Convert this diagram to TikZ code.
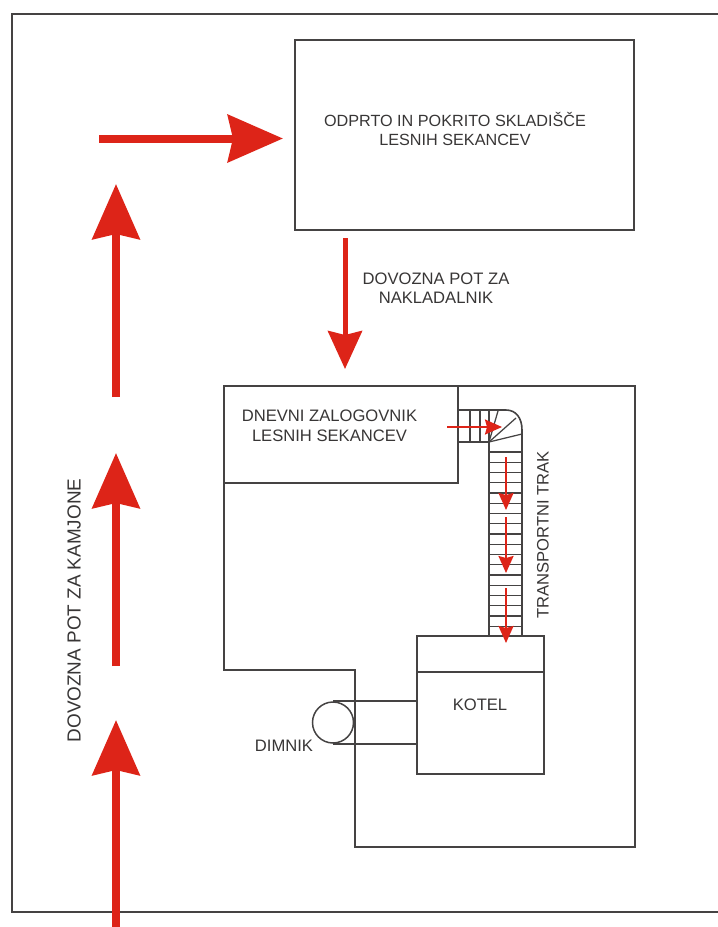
\documentclass[tikz,border=0pt]{standalone}
\usepackage{fontspec}
\setmainfont{Liberation Sans}
\usetikzlibrary{arrows.meta}
\definecolor{ln}{HTML}{454343}
\definecolor{rd}{HTML}{DD2418}
\definecolor{tx}{HTML}{383636}
\tikzset{
 wall/.style={draw=ln,line width=1.6bp},
 thin wall/.style={draw=ln,line width=1.25bp},
 big arrow/.style={draw=rd,line width=8bp,-{Stealth[length=55bp,width=47bp,inset=5bp,fill=rd]}},
 mid arrow/.style={draw=rd,line width=5bp,-{Stealth[length=38bp,width=34bp,inset=4bp,fill=rd]}},
 small arrow/.style={draw=rd,line width=2bp,-{Stealth[length=17bp,width=15bp,inset=2bp,fill=rd]}},
 lbl/.style={text=tx,font=\fontsize{16.6bp}{19.6bp}\selectfont,align=center,inner sep=0pt},
 box/.style={wall,anchor=north west,inner sep=0pt,outer sep=0pt},
}
\begin{document}
\begin{tikzpicture}[x=1bp,y=-1bp]
\useasboundingbox (0,0) rectangle (718,927);
\fill[white] (0,0) rectangle (718,927);
% outer frame
\draw[wall] (718,14) -- (12,14) -- (12,912) -- (718,912);
% storage
\node[box,minimum width=339bp,minimum height=190bp] (store) at (295,40) {};
\node[lbl,font=\fontsize{16.2bp}{19.6bp}\selectfont] (storetxt) at (455,129) {ODPRTO IN POKRITO SKLADIŠČE\\LESNIH SEKANCEV};
% building
\draw[wall] (224,386) -- (635,386) -- (635,847) -- (355,847) -- (355,670) -- (224,670) -- cycle;
\node[box,minimum width=234bp,minimum height=97bp] (bunker) at (224,386) {};
\node[lbl] (bunkertxt) at (329.5,425.5) {DNEVNI ZALOGOVNIK\\LESNIH SEKANCEV};
% boiler
\node[box,minimum width=127bp,minimum height=138bp] (boiler) at (417,636) {};
\draw[wall] (417,672) -- (544,672);
\node[lbl] (boilertxt) at (480,705) {KOTEL};
% chimney
\node[draw=ln,line width=1.5bp,circle,minimum size=41bp,inner sep=0pt] (chim) at (333,722.5) {};
\draw[wall] (chim.north) -- (chim.north -| boiler.west);
\draw[wall] (chim.south) -- (chim.south -| boiler.west);
\node[lbl] (chimtxt) at (284,746) {DIMNIK};
% conveyor
\draw[wall] (458,410) -- (506,410) .. controls (516,410) and (522,418) .. (522,430) -- (522,636);
\draw[wall] (458,442) -- (489,442) -- (489,636);
\foreach \x in {470,480} \draw[thin wall] (\x,410) -- (\x,442);
\draw[thin wall] (489,410) -- (489,442);
\draw[thin wall] (489,442) -- (498,411);
\draw[thin wall] (489,442) -- (516,418);
\draw[thin wall] (489,442) -- (522,434);
\foreach \n in {0,...,17} \draw[thin wall] (489,452+\n*10.25) -- (522,452+\n*10.25);
\node[lbl,rotate=90] (tracktxt) at (543,535) {TRANSPORTNI TRAK};
% arrows
\coordinate (a1) at (99,138.5); \coordinate (a2) at (283,138.5);
\draw[big arrow] (a1) -- (a2);
\coordinate (b1) at (116,397); \coordinate (b2) at (116,184);
\draw[big arrow] (b1) -- (b2);
\coordinate (c1) at (116,666); \coordinate (c2) at (116,453);
\draw[big arrow] (c1) -- (c2);
\coordinate (d1) at (116,927); \coordinate (d2) at (116,720);
\draw[big arrow] (d1) -- (d2);
\coordinate (e1) at (345,238); \coordinate (e2) at (345,369);
\draw[mid arrow] (e1) -- (e2);
\node[lbl] (roadtxt) at (436,288) {DOVOZNA POT ZA\\NAKLADALNIK};
\node[lbl,rotate=90,font=\fontsize{18.9bp}{22bp}\selectfont] (trucktxt) at (74,610.5) {DOVOZNA POT ZA KAMJONE};
\coordinate (f1) at (447,427); \coordinate (f2) at (502,427);
\draw[small arrow] (f1) -- (f2);
\coordinate (g1) at (506,457); \coordinate (g2) at (506,510);
\draw[small arrow] (g1) -- (g2);
\coordinate (h1) at (506,517); \coordinate (h2) at (506,573);
\draw[small arrow] (h1) -- (h2);
\coordinate (i1) at (506,588); \coordinate (i2) at (506,643);
\draw[small arrow] (i1) -- (i2);
\end{tikzpicture}
\end{document}
